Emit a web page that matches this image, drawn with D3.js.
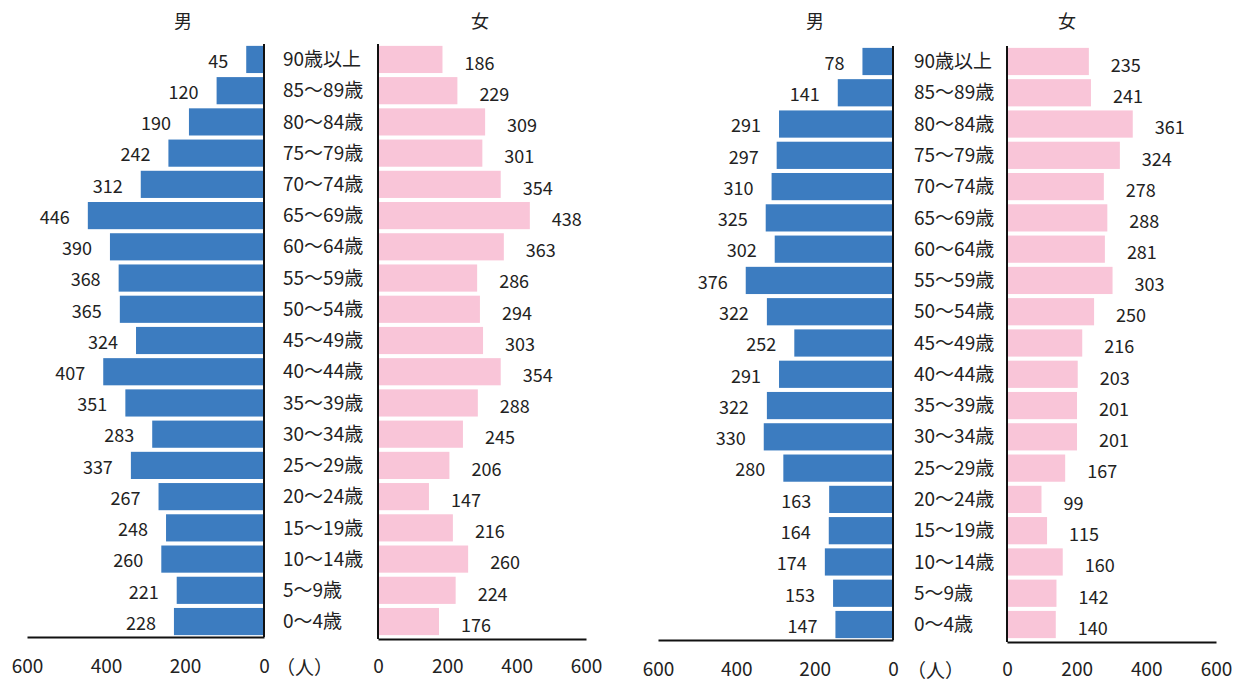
<!DOCTYPE html>
<html>
<head>
<meta charset="utf-8">
<script src="https://cdn.jsdelivr.net/npm/d3@7"></script>
<style>
  body { margin: 0; background: #fff; }
  text { font-family: "Noto Sans CJK JP", "Noto Sans", sans-serif; fill: #222; }
</style>
</head>
<body>
<svg id="chart" width="1240" height="683"></svg>
<script>
// 年齢区分（上から）
var ages = ["90歳以上", "85～89歳", "80～84歳", "75～79歳", "70～74歳", "65～69歳", "60～64歳",
  "55～59歳", "50～54歳", "45～49歳", "40～44歳", "35～39歳", "30～34歳", "25～29歳",
  "20～24歳", "15～19歳", "10～14歳", "5～9歳", "0～4歳"];

// 左のピラミッド
var maleA = [45, 120, 190, 242, 312, 446, 390, 368, 365, 324, 407, 351, 283, 337, 267, 248, 260, 221, 228];
var femaleA = [186, 229, 309, 301, 354, 438, 363, 286, 294, 303, 354, 288, 245, 206, 147, 216, 260, 224, 176];

// 右のピラミッド
var maleB = [78, 141, 291, 297, 310, 325, 302, 376, 322, 252, 291, 322, 330, 280, 163, 164, 174, 153, 147];
var femaleB = [235, 241, 361, 324, 278, 288, 281, 303, 250, 216, 203, 201, 201, 167, 99, 115, 160, 142, 140];

var xTicks = [0, 200, 400, 600];

var svg = d3.select("#chart");

function drawPyramid(cfg, male, female) {
  var g = svg.append("g");

  // 縦方向のバンド
  var y = d3.scaleBand()
    .domain(ages)
    .range([cfg.top, cfg.bottom])
    .paddingInner(0.13)
    .paddingOuter(0.06);

  // 男は左向き、女は右向き
  var xm = d3.scaleLinear().domain([0, 600]).range([cfg.m0, cfg.m600]);
  var xf = d3.scaleLinear().domain([0, 600]).range([cfg.f0, cfg.f600]);

  var rows = ages.map(function(a, i) { return { age: a, m: male[i], f: female[i] }; });

  // 男の棒
  g.selectAll(".mbar").data(rows).enter().append("rect")
    .attr("x", d => xm(d.m))
    .attr("y", d => y(d.age))
    .attr("width", d => xm(0) - xm(d.m))
    .attr("height", y.bandwidth())
    .attr("fill", "#3c7cc0");

  // 女の棒
  g.selectAll(".fbar").data(rows).enter().append("rect")
    .attr("x", xf(0))
    .attr("y", d => y(d.age))
    .attr("width", d => xf(d.f) - xf(0))
    .attr("height", y.bandwidth())
    .attr("fill", "#f9c5d8");

  // 数値ラベル
  g.selectAll(".mlab").data(rows).enter().append("text")
    .attr("x", d => xm(d.m) - 18)
    .attr("y", d => y(d.age) + y.bandwidth() / 2 + 2)
    .attr("dy", "0.35em")
    .attr("text-anchor", "end")
    .attr("font-size", 18)
    .text(d => d.m);

  g.selectAll(".flab").data(rows).enter().append("text")
    .attr("x", d => xf(d.f) + 22)
    .attr("y", d => y(d.age) + y.bandwidth() / 2 + 4)
    .attr("dy", "0.35em")
    .attr("font-size", 18)
    .text(d => d.f);

  // 年齢ラベル
  g.selectAll(".age").data(rows).enter().append("text")
    .attr("x", cfg.ageX)
    .attr("y", d => y(d.age) + y.bandwidth() / 2)
    .attr("dy", "0.35em")
    .attr("font-size", 19)
    .text(d => d.age);

  // 縦軸線
  g.append("line")
    .attr("x1", xm(0)).attr("x2", xm(0))
    .attr("y1", cfg.top).attr("y2", cfg.bottom)
    .attr("stroke", "#111").attr("stroke-width", 2);
  g.append("line")
    .attr("x1", xf(0)).attr("x2", xf(0))
    .attr("y1", cfg.top).attr("y2", cfg.bottom + 2)
    .attr("stroke", "#111").attr("stroke-width", 2);

  // 横軸
  var axM = g.append("g")
    .attr("transform", "translate(0," + cfg.bottom + ")")
    .call(d3.axisBottom(xm).tickValues(xTicks).tickSize(0).tickPadding(23));
  var axF = g.append("g")
    .attr("transform", "translate(0," + (cfg.bottom + 2) + ")")
    .call(d3.axisBottom(xf).tickValues(xTicks).tickSize(0).tickPadding(21));
  [axM, axF].forEach(function(ax) {
    ax.select(".domain").attr("stroke", "#111").attr("stroke-width", 2);
    ax.selectAll("text")
      .attr("font-size", 19)
      .attr("font-family", "'Noto Sans CJK JP', sans-serif")
      .attr("fill", "#222");
  });

  // 単位
  g.append("text")
    .attr("x", cfg.ageX - 7)
    .attr("y", cfg.bottom + 31)
    .attr("dy", "0.35em")
    .attr("font-size", 19)
    .text("（人）");

  // 見出し
  g.append("text")
    .attr("x", cfg.mTitle).attr("y", 22)
    .attr("dy", "0.35em")
    .attr("text-anchor", "middle")
    .attr("font-size", 18)
    .text("男");
  g.append("text")
    .attr("x", cfg.fTitle).attr("y", 22)
    .attr("dy", "0.35em")
    .attr("text-anchor", "middle")
    .attr("font-size", 18)
    .text("女");
}

drawPyramid({ top: 44, bottom: 637, m0: 264, m600: 27, f0: 378, f600: 586, ageX: 283, mTitle: 183, fTitle: 480 }, maleA, femaleA);
drawPyramid({ top: 46, bottom: 640, m0: 893, m600: 658, f0: 1007, f600: 1216, ageX: 914, mTitle: 815, fTitle: 1067 }, maleB, femaleB);
</script>
</body>
</html>
